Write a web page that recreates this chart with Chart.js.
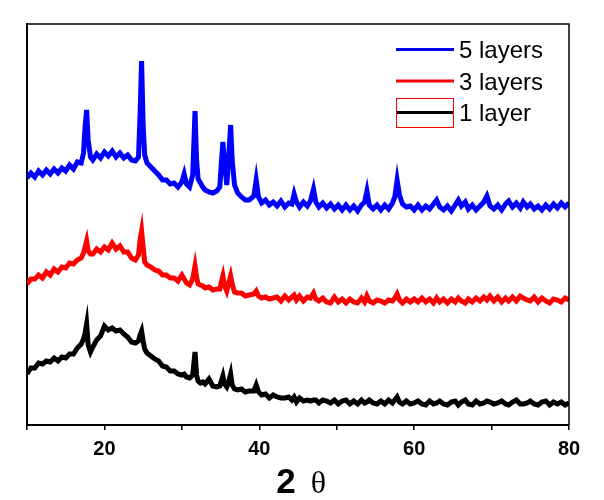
<!DOCTYPE html>
<html>
<head>
<meta charset="utf-8">
<script src="https://cdn.jsdelivr.net/npm/chart.js@4"></script>
<style>
  html, body { margin: 0; padding: 0; background: #fff; }
  #wrap { width: 604px; height: 500px; position: relative; }
</style>
</head>
<body>
<div id="wrap"><canvas id="xrdChart"></canvas></div>
<script>
// 2-theta positions (degrees), shared by all three patterns
const twoTheta = [
  10, 10.5, 11, 11.5, 12, 12.5, 13, 13.5, 14, 14.5,
  15, 15.5, 16, 16.5, 17, 17.3, 17.5, 17.7, 17.9, 18.2,
  18.5, 19, 19.5, 20, 20.5, 21, 21.5, 22, 22.5, 23,
  23.5, 24, 24.4, 24.6, 24.8, 25, 25.2, 25.5, 26, 26.5,
  27, 27.5, 28, 28.5, 29, 29.5, 30, 30.3, 30.6, 31,
  31.4, 31.7, 31.9, 32.1, 32.4, 32.7, 33, 33.5, 34, 34.5,
  34.9, 35.1, 35.3, 35.5, 35.8, 36.0, 36.3, 36.5, 36.8, 37.2,
  37.7, 38.2, 38.7, 39.3, 39.6, 39.9, 40.3, 40.8, 41.3, 41.8,
  42.3, 42.8, 43.3, 43.8, 44.2, 44.5, 44.8, 45.2, 45.7, 46.2,
  46.6, 47.0, 47.3, 47.7, 48.2, 48.7, 49.2, 49.7, 50.2, 50.7,
  51.2, 51.7, 52.2, 52.7, 53.2, 53.6, 53.9, 54.2, 54.7, 55.2,
  55.7, 56.2, 56.7, 57.2, 57.5, 57.8, 58.1, 58.5, 59, 59.5,
  60, 60.5, 61, 61.5, 62, 62.5, 62.9, 63.3, 63.8, 64.3,
  64.8, 65.3, 65.7, 66.1, 66.6, 67, 67.5, 68, 68.5, 69,
  69.4, 69.8, 70.3, 70.8, 71.3, 71.8, 72.2, 72.7, 73.2, 73.7,
  74.1, 74.6, 75, 75.5, 76, 76.5, 77, 77.5, 78, 78.5,
  79, 79.5, 80
]

// intensities (a.u., already offset for stacking)
const layers5 = [
  247, 252, 248, 254, 250, 255, 251, 256, 252, 257,
  254, 260, 256, 263, 262, 272, 298, 315, 285, 268,
  265, 271, 267, 273, 269, 274, 268, 272, 267, 270,
  265, 264, 268, 310, 364, 300, 270, 262, 258, 254,
  250, 245, 245, 241, 242, 238, 243, 251, 241, 238,
  250, 314, 265, 246, 242, 238, 235, 233, 232, 234,
  238, 262, 283, 262, 240, 262, 300, 265, 240, 232,
  228, 225, 225, 229, 245, 228, 222, 225, 220, 223,
  219, 224, 218, 222, 221, 231, 223, 218, 223, 219,
  224, 236, 223, 218, 222, 217, 221, 216, 220, 215,
  220, 215, 219, 214, 220, 223, 234, 220, 216, 220,
  215, 220, 216, 222, 228, 245, 230, 221, 218, 219,
  215, 220, 215, 219, 216, 221, 225, 218, 215, 219,
  214, 220, 225, 219, 223, 216, 220, 215, 219, 223,
  229, 219, 216, 220, 215, 221, 224, 218, 222, 217,
  223, 218, 221, 216, 219, 215, 220, 216, 221, 217,
  222, 218, 222
]

const layers3 = [
  141, 146, 146, 150, 147, 153, 150, 156, 153, 158,
  157, 162, 161, 165, 167, 172, 178, 184, 174, 171,
  171, 176, 173, 178, 175, 182, 176, 179, 173, 173,
  167, 165, 170, 185, 194, 178, 163, 160, 158, 155,
  154, 150, 150, 147, 147, 144, 150, 146, 142, 140,
  146, 159, 148, 141, 140, 139, 137, 138, 135, 136,
  136, 143, 149, 140, 134, 140, 149, 141, 133, 132,
  132, 129, 130, 131, 134, 129, 127, 128, 126, 127,
  128, 124, 129, 125, 128, 130, 125, 129, 124, 128,
  127, 132, 126, 124, 127, 123, 122, 128, 123, 126,
  122, 126, 123, 122, 127, 123, 129, 124, 122, 125,
  124, 122, 125, 124, 127, 131, 125, 122, 126, 123,
  126, 123, 127, 123, 126, 122, 127, 123, 126, 122,
  126, 123, 127, 124, 122, 126, 123, 127, 124, 128,
  125, 129, 124, 128, 123, 127, 124, 128, 124, 129,
  127, 125, 124, 128, 123, 127, 124, 122, 126, 125,
  123, 127, 125
]

const layers1 = [
  51, 57, 57, 62, 61, 64, 63, 67, 64, 68,
  67, 71, 71, 77, 81, 86, 92, 101, 80, 73,
  78, 85, 89, 99, 95, 97, 94, 95, 91, 88,
  83, 82, 84, 90, 94, 84, 76, 72, 69, 66,
  64, 59, 58, 54, 54, 51, 50, 51, 48, 47,
  50, 73, 50, 44, 42, 43, 41, 46, 39, 38,
  39, 44, 49, 41, 38, 42, 51, 40, 36, 35,
  36, 33, 34, 34, 40, 33, 30, 31, 27, 30,
  28, 27, 27, 28, 25, 28, 23, 27, 24, 25,
  24, 25, 25, 22, 25, 24, 22, 25, 21, 24,
  25, 21, 24, 21, 25, 22, 23, 25, 22, 21,
  24, 21, 25, 22, 25, 28, 23, 21, 24, 21,
  22, 24, 21, 20, 24, 21, 22, 24, 21, 20,
  23, 24, 20, 23, 25, 21, 20, 24, 21, 22,
  24, 23, 21, 22, 24, 21, 20, 23, 25, 21,
  21, 22, 24, 21, 20, 23, 24, 20, 23, 21,
  23, 20, 22
]

const seriesNames = ['5 layers', '3 layers', '1 layer']
const seriesColors = ['#0000ff', '#ff0000', '#000000']
const xTickLabels = [20, 40, 60, 80]

const toPoints = (vals) => vals.map((v, i) => ({ x: twoTheta[i], y: v }))

// frame, legend and the "2 θ" caption
const decorations = {
  id: 'decorations',
  afterDraw(chart) {
    const { ctx, chartArea } = chart
    ctx.save()
    ctx.strokeStyle = '#000'
    ctx.lineWidth = 1.5
    ctx.beginPath()
    ctx.moveTo(chartArea.left, chartArea.top)
    ctx.lineTo(chartArea.right, chartArea.top)
    ctx.lineTo(chartArea.right, chartArea.bottom)
    ctx.stroke()

    // legend
    const x1 = 396, x2 = 454
    const rows = [49.5, 81, 112.5]
    chart.data.datasets.forEach((ds, i) => {
      ctx.strokeStyle = ds.borderColor
      ctx.lineWidth = 3
      ctx.beginPath()
      ctx.moveTo(x1, rows[i])
      ctx.lineTo(x2, rows[i])
      ctx.stroke()
      ctx.fillStyle = '#000'
      ctx.font = '24px "Liberation Sans", Arial, sans-serif'
      ctx.textBaseline = 'alphabetic'
      ctx.textAlign = 'left'
      ctx.fillText(ds.label, 459, rows[i] + 8.5)
    })
    ctx.strokeStyle = '#ff0000'
    ctx.lineWidth = 1
    ctx.strokeRect(396.5, 98.5, 57, 29)

    // axis caption
    ctx.fillStyle = '#000'
    ctx.textAlign = 'center'
    ctx.textBaseline = 'alphabetic'
    ctx.font = 'bold 35px "Liberation Sans", Arial, sans-serif'
    ctx.fillText('2', 286, 493)
    ctx.font = '32px "Liberation Serif", "Times New Roman", serif'
    ctx.fillText('θ', 318.5, 493)
    ctx.restore()
  }
}

new Chart(document.getElementById('xrdChart'), {
  type: 'line',
  data: {
    datasets: [
      { label: seriesNames[0], data: toPoints(layers5), borderColor: seriesColors[0] },
      { label: seriesNames[1], data: toPoints(layers3), borderColor: seriesColors[1] },
      { label: seriesNames[2], data: toPoints(layers1), borderColor: seriesColors[2] }
    ]
  },
  options: {
    responsive: true,
    maintainAspectRatio: false,
    animation: false,
    layout: { padding: { left: 27, right: 35, top: 24, bottom: 35 } },
    elements: {
      line: { borderWidth: 5, tension: 0, fill: false, borderJoinStyle: 'miter' },
      point: { radius: 0 }
    },
    plugins: {
      legend: { display: false },
      tooltip: { enabled: false }
    },
    scales: {
      x: {
        type: 'linear',
        min: 10,
        max: 80,
        afterFit: (scale) => { scale.height = 40 },
        border: { display: true, color: '#000', width: 2 },
        grid: { display: true, drawOnChartArea: false, drawTicks: true, tickLength: 5, color: '#000', lineWidth: 1.5 },
        ticks: {
          stepSize: 10,
          padding: 7,
          color: '#000',
          font: { family: '"Liberation Sans", Arial, sans-serif', size: 20, weight: 'bold' },
          maxRotation: 0,
          callback: (v) => (xTickLabels.includes(v) ? String(v) : '')
        }
      },
      y: {
        min: 0,
        max: 401,
        border: { display: true, color: '#000', width: 2 },
        grid: { display: false, drawTicks: false },
        ticks: { display: false }
      }
    }
  },
  plugins: [decorations]
})
</script>
</body>
</html>
